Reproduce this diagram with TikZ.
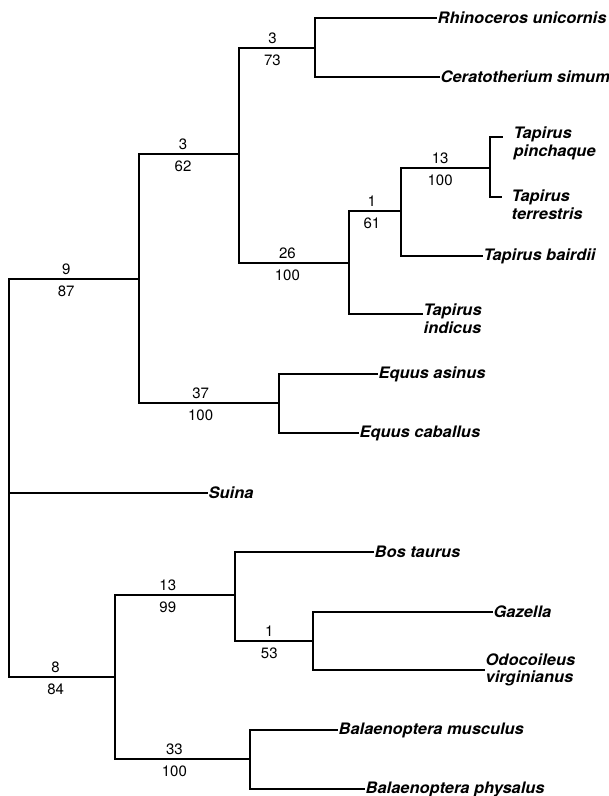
\documentclass[tikz,border=0pt]{standalone}
\usepackage{graphicx}
\usepackage{fontspec}
\setmainfont{TeX Gyre Heros}
\usetikzlibrary{positioning}
\newcommand\taxname[1]{\scalebox{1.04}[1]{#1}}

\begin{document}
\begin{tikzpicture}[
  x=1pt,y=-1pt,
  taxon/.style={anchor=west,inner sep=0.5pt,align=left,font=\fontsize{15.8}{17.5}\selectfont\bfseries\itshape},
  branch/.style={line width=1.8pt},
  heavy/.style={line width=2.6pt},
  steps/.style={above,pos=.72,font=\fontsize{15}{17}\selectfont},
  boot/.style={below=2.5pt,pos=.72,font=\fontsize{15}{17}\selectfont}
]
  \useasboundingbox (0,0) rectangle (609,796);

  \coordinate (root) at (9,493);
  \coordinate (n9) at (139,279);
  \coordinate (n3a) at (239,154);
  \coordinate (n3b) at (315,48);
  \coordinate (n26) at (349,263);
  \coordinate (n1a) at (401,211);
  \coordinate (n13a) at (490,168);
  \coordinate (n37) at (279,403);
  \coordinate (n8) at (115,677);
  \coordinate (n13b) at (235,595);
  \coordinate (n1b) at (313,641);
  \coordinate (n33) at (250,759);

  \node[taxon] (rhino) at (437,18) {\taxname{Rhinoceros unicornis}};
  \node[taxon] (cerat) at (440,77) {\taxname{Ceratotherium simum}};
  \node[taxon] (tpinch) at (513,143.5) {\taxname{Tapirus}\\\taxname{pinchaque}};
  \node[taxon] (tterr) at (511,204.5) {\taxname{Tapirus}\\\taxname{terrestris}};
  \node[taxon] (tbaird) at (483,256) {\taxname{Tapirus bairdii}};
  \node[taxon] (tindic) at (423,318.5) {\taxname{Tapirus}\\\taxname{indicus}};
  \node[taxon] (easin) at (378,374) {\taxname{Equus asinus}};
  \node[taxon] (ecaba) at (359,433) {\taxname{Equus caballus}};
  \node[taxon] (suina) at (208,493) {\taxname{Suina}};
  \node[taxon] (bos) at (374,552) {\taxname{Bos taurus}};
  \node[taxon] (gaz) at (493,612) {\taxname{Gazella}};
  \node[taxon] (odoc) at (485,670) {\taxname{Odocoileus}\\\taxname{virginianus}};
  \node[taxon] (bmusc) at (338,730) {\taxname{Balaenoptera musculus}};
  \node[taxon] (bphys) at (365,789) {\taxname{Balaenoptera physalus}};

  \draw[heavy] (root) |- node[steps] (n9-up) {9} node[boot] (n9-lo) {87} (n9);
  \draw[branch] (root) |- (suina);
  \draw[branch] (root) |- node[steps] (n8-up) {8} node[boot] (n8-lo) {84} (n8);

  \draw[heavy] (n9) |- node[steps] (n3a-up) {3} node[boot] (n3a-lo) {62} (n3a);
  \draw[heavy] (n9) |- node[steps] (n37-up) {37} node[boot] (n37-lo) {100} (n37);

  \draw[heavy] (n3a) |- node[steps] (n3b-up) {3} node[boot] (n3b-lo) {73} (n3b);
  \draw[branch] (n3a) |- node[steps] (n26-up) {26} node[boot] (n26-lo) {100} (n26);
  \draw[branch] (n3b) |- (rhino);
  \draw[branch] (n3b) |- (cerat);

  \draw[heavy] (n26) |- node[steps] (n1a-up) {1} node[boot] (n1a-lo) {61} (n1a);
  \draw[branch] (n26) |- ([yshift=4.5pt]tindic.west);
  \draw[branch] (n1a) |- node[steps] (n13a-up) {13} node[boot] (n13a-lo) {100} (n13a);
  \draw[branch] (n1a) |- (tbaird);
  \draw[heavy] (n13a) |- ([xshift=-10pt,yshift=6.5pt]tpinch.west);
  \draw[heavy] (n13a) |- ([xshift=-9pt,yshift=7.5pt]tterr.west);

  \draw[heavy] (n37) |- (easin);
  \draw[heavy] (n37) |- (ecaba);

  \draw[branch] (n8) |- node[steps] (n13b-up) {13} node[boot] (n13b-lo) {99} (n13b);
  \draw[branch] (n8) |- node[steps] (n33-up) {33} node[boot] (n33-lo) {100} (n33);
  \draw[branch] (n13b) |- (bos);
  \draw[heavy] (n13b) |- node[steps] (n1b-up) {1} node[boot] (n1b-lo) {53} (n1b);
  \draw[branch] (n1b) |- (gaz);
  \draw[branch] (n1b) |- (odoc);
  \draw[branch] (n33) |- (bmusc);
  \draw[heavy] (n33) |- (bphys);
\end{tikzpicture}
\end{document}
